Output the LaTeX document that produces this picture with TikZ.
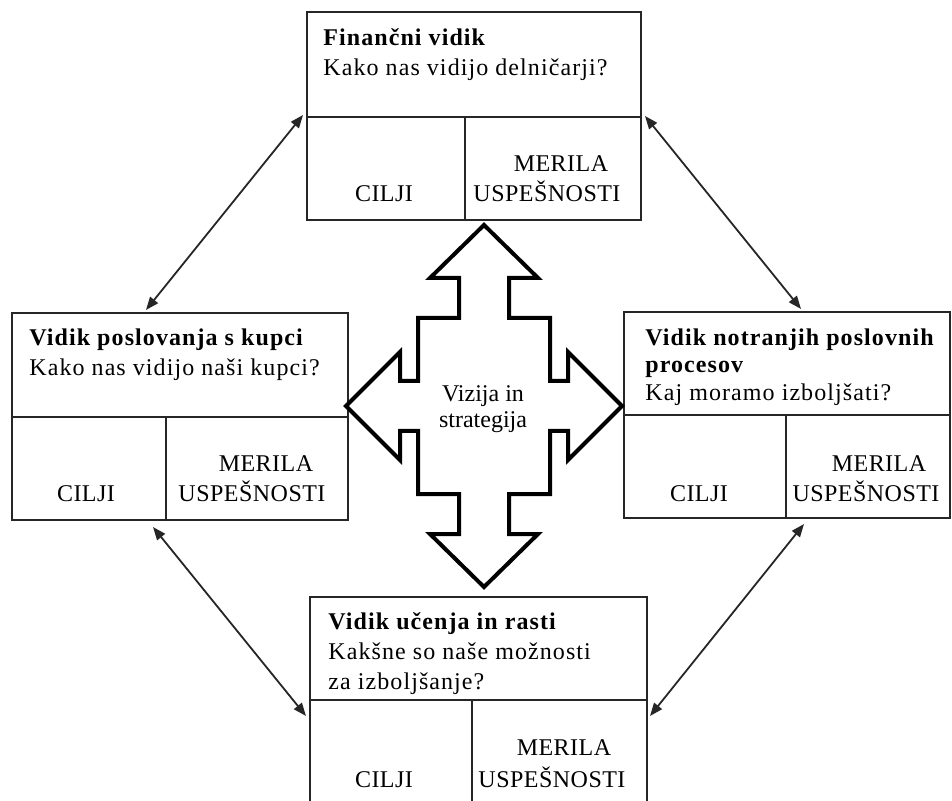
\documentclass[tikz,border=0pt]{standalone}
\usepackage{fontspec}
\setmainfont{Liberation Serif}
\usetikzlibrary{arrows.meta,calc}

\tikzset{
  okvir/.style={draw=black!85, line width=0.8pt, outer sep=0pt, inner sep=0pt, anchor=north west},
  naslov/.style={anchor=base west, align=left, inner sep=0pt, font=\fontsize{12}{15}\selectfont\addfontfeatures{LetterSpace=4.5}},
  celica/.style={anchor=base, inner sep=0pt, font=\fontsize{12}{15}\selectfont\addfontfeatures{LetterSpace=2}},
  povezava/.style={{Triangle[length=6.5pt,width=5pt]}-{Triangle[length=6.5pt,width=5pt]}, draw=black!85, line width=0.9pt},
  kriz/.style={draw, fill=white, line width=2pt, line join=miter}
}

\begin{document}
\begin{tikzpicture}[x=0.5pt, y=-0.5pt]
        \useasboundingbox (0,0) rectangle (952,801);

        \node [okvir, minimum width=167pt, minimum height=52.5pt] (fin) at (307,12) {};
        \node [okvir, minimum width=79pt, minimum height=51.5pt] (fincilji) at (fin.south west) {};
        \node [okvir, minimum width=88pt, minimum height=51.5pt] (finmerila) at (fincilji.north east) {};

        \node [okvir, minimum width=168pt, minimum height=52pt] (kup) at (12,313) {};
        \node [okvir, minimum width=77pt, minimum height=51.5pt] (kupcilji) at (kup.south west) {};
        \node [okvir, minimum width=91pt, minimum height=51.5pt] (kupmerila) at (kupcilji.north east) {};

        \node [okvir, minimum width=163pt, minimum height=51.5pt] (proc) at (624,312) {};
        \node [okvir, minimum width=81pt, minimum height=51.5pt] (proccilji) at (proc.south west) {};
        \node [okvir, minimum width=82pt, minimum height=51.5pt] (procmerila) at (proccilji.north east) {};

        \node [okvir, minimum width=168.5pt, minimum height=51.5pt] (uc) at (310,597) {};
        \node [okvir, minimum width=81pt, minimum height=52pt] (ucilji) at (uc.south west) {};
        \node [okvir, minimum width=87.5pt, minimum height=52pt] (umerila) at (ucilji.north east) {};

        \node [naslov] (fintekst) at (323,76) {\textbf{Finančni vidik}\\Kako nas vidijo delničarji?};
        \node [naslov] (kuptekst) at (29,376) {\textbf{Vidik poslovanja s kupci}\\Kako nas vidijo naši kupci?};
        \node [naslov, font=\fontsize{12}{14}\selectfont\addfontfeatures{LetterSpace=4.5}] (proctekst) at (645,401) {\textbf{Vidik notranjih poslovnih}\\\textbf{procesov}\\Kaj moramo izboljšati?};
        \node [naslov] (uctekst) at (328,689) {\textbf{Vidik učenja in rasti}\\Kakšne so naše možnosti\\za izboljšanje?};

        \node [celica] (fincil) at (384,202) {CILJI};
        \node [celica] (finmer) at (561,172) {MERILA};
        \node [celica] (finusp) at (547,202) {USPEŠNOSTI};

        \node [celica] (kupcil) at (86,502) {CILJI};
        \node [celica] (kupmer) at (266,472) {MERILA};
        \node [celica] (kupusp) at (252,502) {USPEŠNOSTI};

        \node [celica] (proccil) at (699,502) {CILJI};
        \node [celica] (procmer) at (879,472) {MERILA};
        \node [celica] (procusp) at (866,502) {USPEŠNOSTI};

        \node [celica] (uccil) at (384,787) {CILJI};
        \node [celica] (ucmer) at (564,755) {MERILA};
        \node [celica] (ucusp) at (552,787) {USPEŠNOSTI};

        \begin{scope}[shift={(484,406)}]
            \draw [kriz] (0,-181) -- (54,-128) -- (25,-128) -- (25,-88) -- (66,-88) -- (66,-25) -- (84,-25) -- (84,-54)
                -- (138,0) -- (84,54) -- (84,25) -- (66,25) -- (66,88) -- (25,88) -- (25,128) -- (54,128)
                -- (0,181) -- (-54,128) -- (-25,128) -- (-25,88) -- (-66,88) -- (-66,25) -- (-84,25) -- (-84,54)
                -- (-138,0) -- (-84,-54) -- (-84,-25) -- (-66,-25) -- (-66,-88) -- (-25,-88) -- (-25,-128) -- (-54,-128) -- cycle;
        \end{scope}
        \node [anchor=base, align=center, inner sep=0pt, font=\fontsize{12}{13}\selectfont] (vizija) at (483,428) {Vizija in\\strategija};

        \draw [povezava] ($(kup.north west)+(134,-3)$) -- ($(fin.south west)+(-4,-2)$);
        \draw [povezava] ($(fin.south east)+(4,-1)$) -- ($(proc.north west)+(177,-3)$);
        \draw [povezava] ($(kupcilji.south east)+(-13,7)$) -- ($(ucilji.north west)+(-4,16)$);
        \draw [povezava] ($(procmerila.south west)+(18,6)$) -- ($(umerila.north east)+(3,16)$);
    \end{tikzpicture}
\end{document}
